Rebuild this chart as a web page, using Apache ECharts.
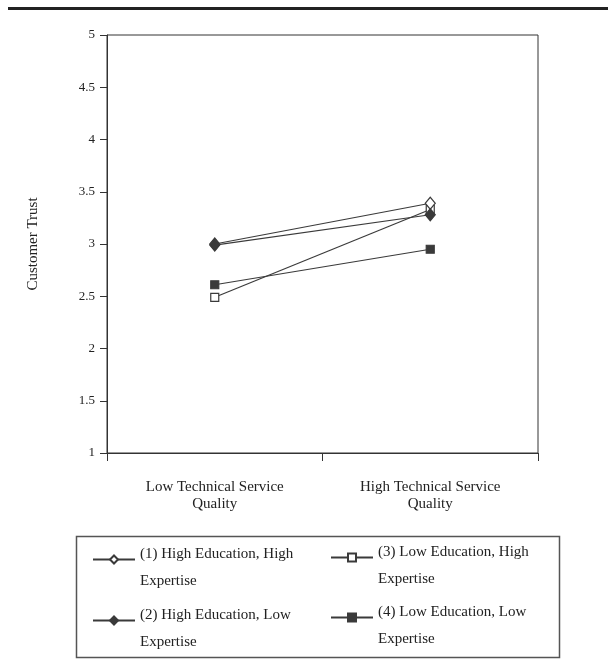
<!DOCTYPE html>
<html>
<head>
<meta charset="utf-8">
<script src="https://cdn.jsdelivr.net/npm/echarts@6/dist/echarts.min.js"></script>
<style>html,body{margin:0;padding:0;background:#fff;}#c{width:608px;height:670px;}</style>
</head>
<body>
<div id="c"></div>
<script>
const categories = ['Low Technical Service\nQuality', 'High Technical Service\nQuality'];
const seriesNames = [
  '(1) High Education, High\nExpertise',
  '(2) High Education, Low\nExpertise',
  '(3) Low Education, High\nExpertise',
  '(4) Low Education, Low\nExpertise'
];
const s1HighEduHighExp = [3.00, 3.39];
const s2HighEduLowExp = [2.99, 3.28];
const s3LowEduHighExp = [2.49, 3.33];
const s4LowEduLowExp = [2.61, 2.95];
const yMin = 1, yMax = 5, yStep = 0.5;

const FONT = 'Liberation Serif';
const INK = '#333';
const MARK = '#3a3a3a';

function mkSeries(name, data, symbol, filled, size, z) {
  return {
    type: 'line', name: name, data: data, symbol: symbol, symbolSize: size,
    z: z,
    lineStyle: {color: MARK, width: 1.2},
    itemStyle: {color: filled ? MARK : '#fff', borderColor: MARK, borderWidth: 1.2},
    emphasis: {disabled: true}, animation: false
  };
}

const H1 = 44, H2 = 10;
function mkLegend(name, left, iconY) {
  return {
    data: [name], left: left, top: iconY - (H1 + H2) / 2 + 15, orient: 'vertical', padding: 0,
    itemWidth: 42, itemHeight: 10, itemGap: 0, selectedMode: false,
    formatter: function (n) {
      const parts = n.split('\n');
      return '{a|' + parts[0] + '}\n{b|' + parts[1] + '}';
    },
    textStyle: {
      fontFamily: FONT, fontSize: 15, color: '#222',
      rich: {
        a: {fontFamily: FONT, fontSize: 15, color: '#222', lineHeight: H1},
        b: {fontFamily: FONT, fontSize: 15, color: '#222', lineHeight: H2}
      }
    }
  };
}

const chart = echarts.init(document.getElementById('c'), null, {renderer: 'canvas'});
chart.setOption({
  backgroundColor: '#fff',
  animation: false,
  grid: {left: 107, right: 70, top: 35, bottom: 217, show: true, borderColor: INK, borderWidth: 1, containLabel: false},
  xAxis: {
    type: 'category', data: categories, boundaryGap: true,
    axisLine: {lineStyle: {color: INK, width: 1}},
    axisTick: {show: true, length: 8, lineStyle: {color: INK}},
    axisLabel: {fontFamily: FONT, fontSize: 15, color: '#222', lineHeight: 17, margin: 26, interval: 0}
  },
  yAxis: {
    type: 'value', min: yMin, max: yMax, interval: yStep,
    name: 'Customer Trust', nameLocation: 'middle', nameGap: 66,
    nameTextStyle: {fontFamily: FONT, fontSize: 15, color: '#222'},
    splitLine: {show: false},
    axisLine: {show: true, lineStyle: {color: INK, width: 1}},
    axisTick: {show: true, length: 7, lineStyle: {color: INK}},
    axisLabel: {fontFamily: FONT, fontSize: 13, color: '#222', margin: 12}
  },
  legend: [
    mkLegend(seriesNames[0], 92, 559),
    mkLegend(seriesNames[1], 92, 620),
    mkLegend(seriesNames[2], 330, 557),
    mkLegend(seriesNames[3], 330, 617)
  ],
  graphic: [
    {type: 'rect', shape: {x: 8, y: 7, width: 600, height: 3}, style: {fill: '#222'}, silent: true},
    {type: 'rect', shape: {x: 76.5, y: 536.5, width: 483, height: 121}, style: {fill: 'none', stroke: '#555', lineWidth: 1.5}, silent: true}
  ],
  series: [
    mkSeries(seriesNames[3], s4LowEduLowExp, 'rect', true, 8, 2),
    mkSeries(seriesNames[2], s3LowEduHighExp, 'rect', false, 8, 3),
    mkSeries(seriesNames[0], s1HighEduHighExp, 'diamond', false, [10, 12], 4),
    mkSeries(seriesNames[1], s2HighEduLowExp, 'diamond', true, [10, 12], 5)
  ]
});
</script>
</body>
</html>
